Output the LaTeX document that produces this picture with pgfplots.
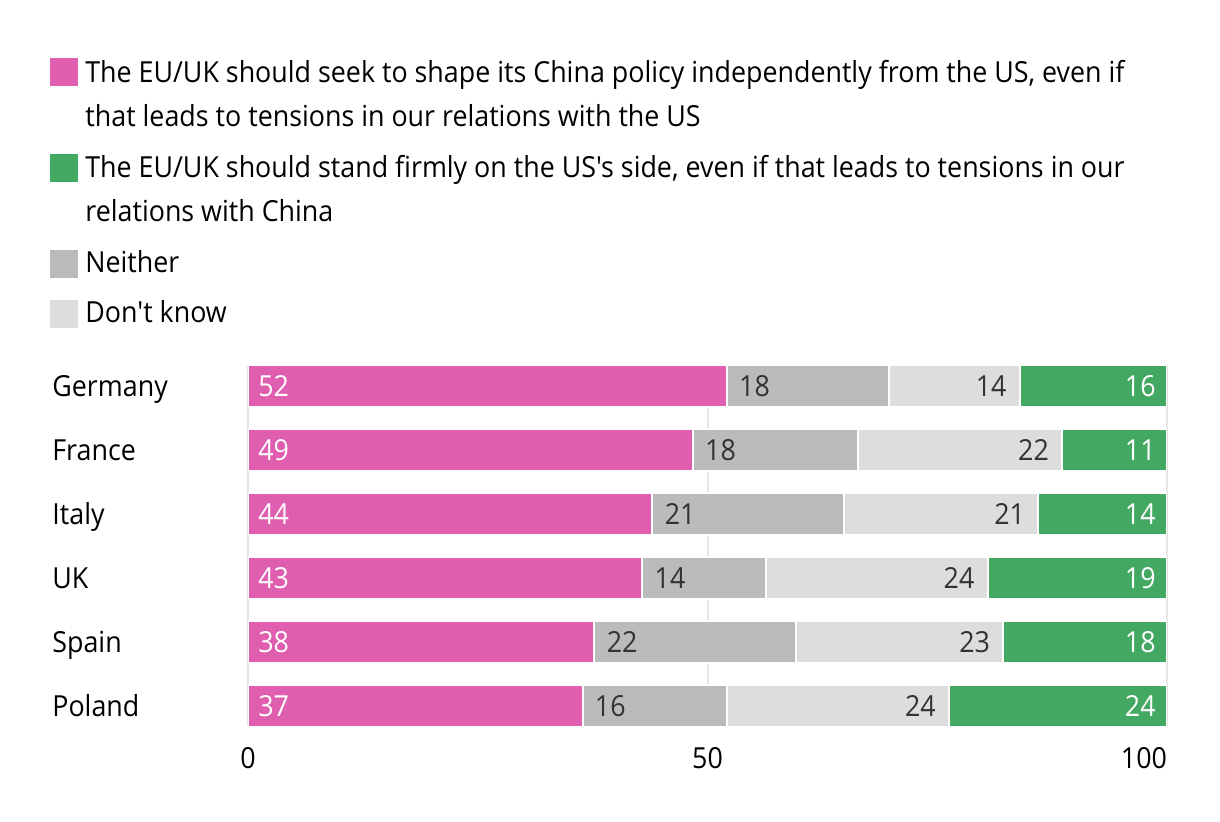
\documentclass[border=0pt]{standalone}
\usepackage{fontspec}
\setmainfont[FakeStretch=0.925, Ligatures=TeXOff]{Open Sans}
\usepackage{pgfplots}
\pgfplotsset{compat=1.18}

\definecolor{pinkbar}{HTML}{E05EAF}
\definecolor{greenbar}{HTML}{43A862}
\definecolor{graybar}{HTML}{BBBBBB}
\definecolor{lightbar}{HTML}{DDDDDD}
\definecolor{labeldark}{HTML}{333333}
\definecolor{gridc}{HTML}{E6E6E6}

% shared geometry of the bar axis and the label axis
\pgfplotsset{
  barframe/.style={
    at={(124pt,-183pt)}, anchor=north west,
    scale only axis, width=459.5pt, height=180pt,
    xmin=0, xmax=100, ymin=-0.3125, ymax=5.3125,
    y dir=reverse,
  },
  seglabel/.style={draw=none, nodes near coords, point meta=explicit symbolic,
    nodes near coords style={inner sep=0pt, yshift=-5pt, #1}},
}

\begin{document}
\begin{tikzpicture}[font=\fontsize{14.5}{17}\selectfont]
\path[use as bounding box] (0,0) rectangle (610pt,-411pt);

% legend
\fill[pinkbar]  (25pt,-29pt)  rectangle (39pt,-43pt);
\fill[greenbar] (25pt,-77pt)  rectangle (39pt,-91pt);
\fill[graybar]  (25pt,-125pt) rectangle (39pt,-139pt);
\fill[lightbar] (25pt,-150pt) rectangle (39pt,-164pt);
\begin{scope}[every node/.style={anchor=base west, inner sep=0pt}]
\node at (42.5pt,-41.5pt)  {The EU/UK should seek to shape its China policy independently from the US, even if};
\node at (42.5pt,-63.5pt)  {that leads to tensions in our relations with the US};
\node at (42.5pt,-89pt)    {The EU/UK should stand firmly on the US's side, even if that leads to tensions in our};
\node at (42.5pt,-111pt)   {relations with China};
\node at (42.5pt,-136.5pt) {Neither};
\node at (42.5pt,-161.5pt) {Don't know};
\end{scope}

\begin{axis}[barframe,
  xbar stacked, bar width=21pt,
  ytick={0,...,5},
  yticklabels={Germany,France,Italy,UK,Spain,Poland},
  xtick={0,50,100},
  xticklabels={0,50,\llap{100}},
  xmajorgrids, grid style={gridc, line width=1pt},
  axis line style={draw=none}, major tick length=0pt,
  yticklabel style={anchor=base west, inner sep=0pt, xshift=-98pt, yshift=-5pt},
  xticklabel style={anchor=base, inner sep=0pt, yshift=-21pt},
]
\addplot[fill=pinkbar, draw=white, line width=1pt] coordinates
  {(52.1,0) (48.4,1) (44.0,2) (42.9,3) (37.7,4) (36.4,5)};
\addplot[fill=graybar, draw=white, line width=1pt] coordinates
  {(17.6,0) (18.0,1) (20.9,2) (13.5,3) (21.9,4) (15.7,5)};
\addplot[fill=lightbar, draw=white, line width=1pt] coordinates
  {(14.3,0) (22.2,1) (21.1,2) (24.1,3) (22.6,4) (24.2,5)};
\addplot[fill=greenbar, draw=white, line width=1pt] coordinates
  {(16.0,0) (11.4,1) (14.0,2) (19.5,3) (17.8,4) (23.7,5)};
\end{axis}

\begin{axis}[barframe, hide axis, clip=false]
% Agree with independent policy: at the start of the bar
\addplot[seglabel={anchor=base west, xshift=5pt, text=white}] coordinates
  {(0,0) [52] (0,1) [49] (0,2) [44] (0,3) [43] (0,4) [38] (0,5) [37]};
% Neither: at the start of the grey segment
\addplot[seglabel={anchor=base west, xshift=6pt, text=labeldark}] coordinates
  {(52.1,0) [18] (48.4,1) [18] (44.0,2) [21] (42.9,3) [14] (37.7,4) [22] (36.4,5) [16]};
% Don't know: at the end of the light segment
\addplot[seglabel={anchor=base east, xshift=-6.5pt, text=labeldark}] coordinates
  {(84.0,0) [14] (88.6,1) [22] (86.0,2) [21] (80.5,3) [24] (82.2,4) [23] (76.3,5) [24]};
% Stand with the US: at the end of the bar
\addplot[seglabel={anchor=base east, xshift=-5.5pt, text=white}] coordinates
  {(100,0) [16] (100,1) [11] (100,2) [14] (100,3) [19] (100,4) [18] (100,5) [24]};
\end{axis}
\end{tikzpicture}
\end{document}
